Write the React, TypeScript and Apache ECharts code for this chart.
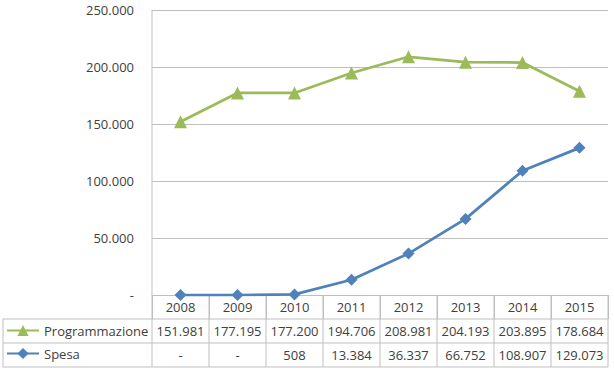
import React, { useEffect, useRef } from "react";
import * as echarts from "echarts";

const years = ["2008", "2009", "2010", "2011", "2012", "2013", "2014", "2015"];
const programmazione = [151981, 177195, 177200, 194706, 208981, 204193, 203895, 178684];
const spesa = [0, 0, 508, 13384, 36337, 66752, 108907, 129073];
const yTicks = [0, 50000, 100000, 150000, 200000, 250000];

const GREEN = "#9BBB59";
const BLUE = "#4F81BD";
const GRID_COLOR = "#BFBFBF";
const TEXT = "#404040";
const FONT = "'Open Sans', sans-serif";

const fmt = (v: number) =>
  v === 0 ? "-" : String(Math.round(v)).replace(/\B(?=(\d{3})+(?!\d))/g, ".");

const GL = 152;
const GR = 608;
const GT = 10;
const GB = 295;
const ROW_H = 24;
const TABLE_LEFT = 3;

export default function App() {
  const ref = useRef<HTMLDivElement>(null);
  useEffect(() => {
    if (!ref.current) return;
    const chart = echarts.init(ref.current, undefined, { renderer: "svg" });
    const colW = (GR - GL) / years.length;
    const rowsY = [GB + ROW_H, GB + 2 * ROW_H, GB + 3 * ROW_H];
    const graphics: any[] = [];
    rowsY.forEach((y) => {
      graphics.push({
        type: "line",
        shape: { x1: TABLE_LEFT, y1: y, x2: GR, y2: y },
        style: { stroke: GRID_COLOR, lineWidth: 1 },
      });
    });
    graphics.push({
      type: "line",
      shape: { x1: TABLE_LEFT, y1: rowsY[0], x2: TABLE_LEFT, y2: rowsY[2] },
      style: { stroke: GRID_COLOR, lineWidth: 1 },
    });
    for (let i = 0; i <= years.length; i++) {
      const x = GL + colW * i;
      graphics.push({
        type: "line",
        shape: { x1: x, y1: i === 0 ? GT : GB, x2: x, y2: rowsY[2] },
        style: { stroke: GRID_COLOR, lineWidth: 1 },
      });
    }
    const rows = [programmazione, spesa];
    rows.forEach((arr, r) => {
      arr.forEach((v, i) => {
        graphics.push({
          type: "text",
          x: GL + colW * (i + 0.5),
          y: rowsY[r] + ROW_H / 2,
          style: {
            text: fmt(v),
            align: "center",
            verticalAlign: "middle",
            fill: TEXT,
            font: `13px ${FONT}`,
          },
        });
      });
    });

    chart.setOption({
      animation: false,
      backgroundColor: "#ffffff",
      textStyle: { fontFamily: FONT },
      grid: { left: GL, right: 614 - GR, top: GT, bottom: 373 - GB, containLabel: false },
      legend: {
        orient: "vertical",
        left: 6,
        top: GB + ROW_H + 5,
        padding: 0,
        itemGap: 10,
        itemWidth: 32,
        itemHeight: 14,
        textStyle: { color: TEXT, fontSize: 13, fontFamily: FONT },
        data: ["Programmazione", "Spesa"],
        selectedMode: false,
      },
      xAxis: {
        type: "category",
        data: years,
        boundaryGap: true,
        axisLine: { show: true, lineStyle: { color: GRID_COLOR } },
        axisTick: { show: true, length: ROW_H, lineStyle: { color: GRID_COLOR } },
        axisLabel: { color: TEXT, fontSize: 13, fontFamily: FONT, margin: 5 },
      },
      yAxis: {
        type: "value",
        min: 0,
        max: 250000,
        interval: 50000,
        axisLine: { show: false },
        axisTick: { show: false },
        splitLine: { lineStyle: { color: GRID_COLOR } },
        axisLabel: {
          color: TEXT,
          fontSize: 13,
          fontFamily: FONT,
          margin: 18,
          formatter: (v: number) => (yTicks.includes(v) ? fmt(v) : ""),
        },
      },
      series: [
        {
          name: "Programmazione",
          type: "line",
          data: programmazione,
          color: GREEN,
          lineStyle: { width: 2.75, color: GREEN },
          symbol: "triangle",
          symbolSize: 13,
          itemStyle: { color: GREEN },
        },
        {
          name: "Spesa",
          type: "line",
          data: spesa,
          color: BLUE,
          lineStyle: { width: 2.75, color: BLUE },
          symbol: "diamond",
          symbolSize: 12,
          itemStyle: { color: BLUE },
        },
      ],
      graphic: graphics,
    });
    return () => chart.dispose();
  }, []);
  return (
    <div
      ref={ref}
      style={{ position: "absolute", left: 0, top: 0, width: 614, height: 373, background: "#fff" }}
    />
  );
}
